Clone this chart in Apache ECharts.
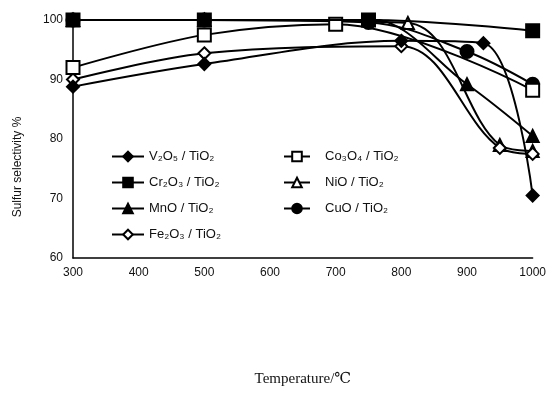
<!DOCTYPE html>
<html>
<head>
<meta charset="utf-8">
<script src="https://cdn.jsdelivr.net/npm/echarts@6/dist/echarts.min.js"></script>
<style>html,body{margin:0;padding:0;background:#fff}#c{width:549px;height:417px}</style>
</head>
<body>
<div id="c"></div>
<script>
// Temperature (°C) / sulfur selectivity (%) pairs
const seriesNames = ['V₂O₅ / TiO₂','Cr₂O₃ / TiO₂','MnO / TiO₂','Fe₂O₃ / TiO₂','Co₃O₄ / TiO₂','NiO / TiO₂','CuO / TiO₂'];
const v2o5Temp  = [300, 500, 800, 925, 1000];
const v2o5Sel   = [88.8, 92.6, 96.5, 96.1, 70.5];
const cr2o3Temp = [300, 500, 750, 1000];
const cr2o3Sel  = [100, 100, 100, 98.2];
const mnoTemp   = [300, 500, 750, 900, 1000];
const mnoSel    = [100, 100, 100.2, 89.2, 80.5];
const fe2o3Temp = [300, 500, 800, 950, 1000];
const fe2o3Sel  = [90, 94.4, 95.6, 78.5, 77.5];
const co3o4Temp = [300, 500, 700, 1000];
const co3o4Sel  = [92, 97.5, 99.3, 88.2];
const nioTemp   = [300, 500, 810, 950, 1000];
const nioSel    = [100, 100, 99.5, 79, 78];
const cuoTemp   = [300, 500, 750, 900, 1000];
const cuoSel    = [100, 100, 99.6, 94.7, 89.2];
const xTicks = {min: 300, max: 1000, step: 100};
const yTicks = {min: 60, max: 100, step: 10};

const pair = (xs, ys) => xs.map((x, i) => [x, ys[i]]);
const styles = [
  {sym: 'diamond', fill: '#000', size: 12},
  {sym: 'rect', fill: '#000', size: 13},
  {sym: 'triangle', fill: '#000', size: 12},
  {sym: 'diamond', fill: '#fff', size: 12},
  {sym: 'rect', fill: '#fff', size: 13},
  {sym: 'triangle', fill: '#fff', size: 12},
  {sym: 'circle', fill: '#000', size: 13}
];
const datas = [
  pair(v2o5Temp, v2o5Sel), pair(cr2o3Temp, cr2o3Sel), pair(mnoTemp, mnoSel),
  pair(fe2o3Temp, fe2o3Sel), pair(co3o4Temp, co3o4Sel), pair(nioTemp, nioSel),
  pair(cuoTemp, cuoSel)
];
const zs = [6, 8, 3, 5, 5, 3, 4];
const series = seriesNames.map((n, i) => ({
  name: n, type: 'line', data: datas[i], smooth: 0.35,
  symbol: styles[i].sym, symbolSize: styles[i].size, z: zs[i],
  showAllSymbol: true,
  lineStyle: {color: '#000', width: 2},
  itemStyle: {color: styles[i].fill, borderColor: '#000', borderWidth: 2},
  emphasis: {disabled: true}
}));

const font = 'Liberation Sans, Arial, sans-serif';
const chart = echarts.init(document.getElementById('c'), null, {renderer: 'canvas'});
chart.setOption({
  animation: false,
  backgroundColor: '#fff',
  grid: {left: 73, right: 12, top: 20, bottom: 159, containLabel: false},
  xAxis: {
    type: 'value', min: xTicks.min, max: xTicks.max, interval: xTicks.step,
    axisLine: {lineStyle: {color: '#000', width: 1.5}},
    axisTick: {show: false},
    splitLine: {show: false},
    axisLabel: {color: '#111', fontFamily: font, fontSize: 12, margin: 9, formatter: v => String(v)},
    name: 'Temperature/℃', nameLocation: 'middle', nameGap: 114,
    nameTextStyle: {fontFamily: 'Liberation Serif, DejaVu Serif, serif', fontSize: 15, color: '#111'}
  },
  yAxis: {
    type: 'value', min: yTicks.min, max: yTicks.max, interval: yTicks.step,
    axisLine: {show: true, lineStyle: {color: '#000', width: 1.5}},
    axisTick: {show: false},
    splitLine: {show: false},
    axisLabel: {color: '#111', fontFamily: font, fontSize: 12, margin: 10}
  },
  legend: [
    {data: seriesNames.slice(0, 4), orient: 'vertical', left: 106, top: 145, itemGap: 13,
     itemWidth: 32, itemHeight: 12,
     textStyle: {fontFamily: font, fontSize: 13, color: '#111', padding: [0, 0, 0, 0]}, selectedMode: false},
    {data: seriesNames.slice(4), orient: 'vertical', left: 278, top: 145, itemGap: 13,
     itemWidth: 26, itemHeight: 12,
     textStyle: {fontFamily: font, fontSize: 13, color: '#111', padding: [0, 0, 0, 10]}, selectedMode: false}
  ],
  graphic: [{
    type: 'text', x: 18, y: 167, rotation: Math.PI / 2,
    style: {text: 'Sulfur selectivity %', fontFamily: font,
            fontSize: 12, fill: '#111', align: 'center', verticalAlign: 'middle'}
  }],
  series: series
});
</script>
</body>
</html>
